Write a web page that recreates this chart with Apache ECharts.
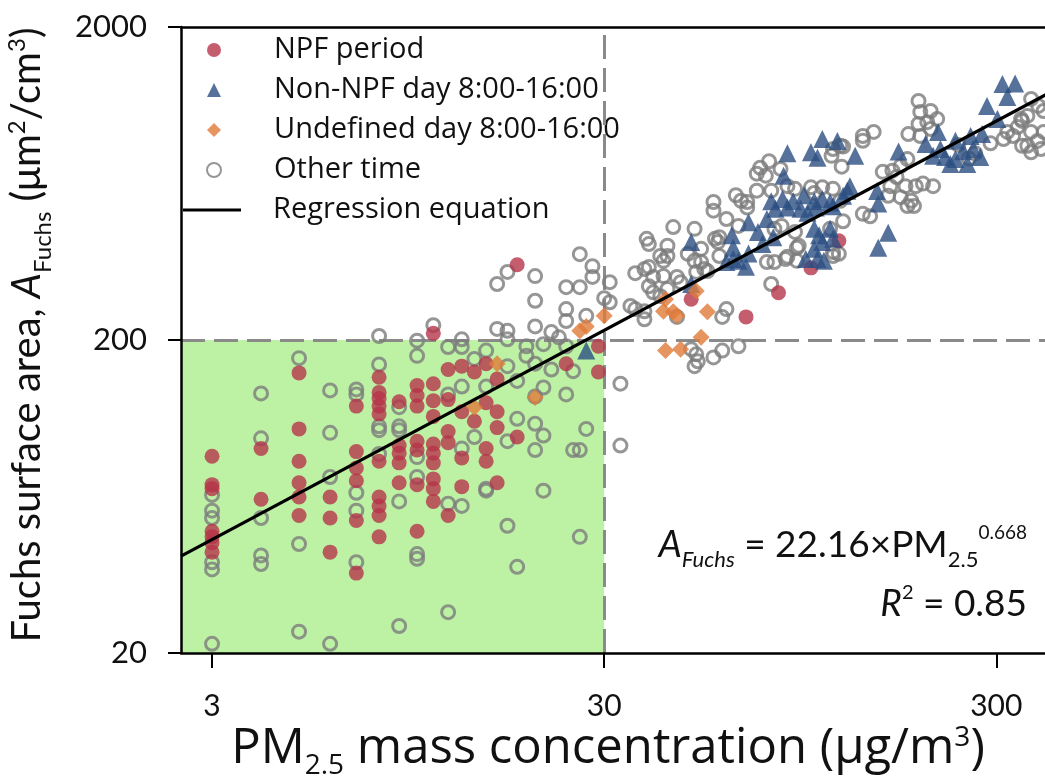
<!DOCTYPE html>
<html>
<head>
<meta charset="utf-8">
<script src="https://cdn.jsdelivr.net/npm/echarts@6.0.0/dist/echarts.min.js"></script>
<style>html,body{margin:0;padding:0;background:#fff}#chart{width:1045px;height:776px}</style>
</head>
<body>
<div id="chart"></div>
<script>
// ---- data ----
const xRange = [2.5, 404];
const yRange = [20, 2000];
const xTicks = [3, 30, 300];
const yTicks = [20, 200, 2000];
const thresholdX = 30;
const thresholdY = 200;

const npfPeriod = [
[3,85],[3,69],[3,67],[3,49],[3,47],[3,45],[3,42],
[4,90],[4,62],
[5,157],[5,104],[5,82],[5,70],[5,63],[5,55],
[6,63],[6,54],[6,42],
[7,123],[7,88],[7,78],[7,71],[7,53],[7,36],
[8,152],[8,136],[8,130],[8,123],[8,116],[8,82],[8,63],[8,59],[8,55],[8,47],
[9,127],[9,92],[9,87],[9,81],[9,70],
[10,143],[10,133],[10,123],[10,95],[10,89],[10,69],[10,49],
[11,210],[11,145],[11,128],[11,114],[11,93],[11,87],[11,81],[11,72],[11,67],[11,61],
[12,161],[12,129],[12,102],[12,94],[12,55],
[13,165],[13,118],[13,84],[13,68],
[14,158],[14,110],
[15,168],[15,126],[15,90],[15,82],
[16,150],[16,118],[16,105],[16,70],
[18,348],[18,98],
[24,168],[29,191],[29,158],
[50,270],[69,237],[83.5,283],[101,340],[119,415]
];

const nonNpfDay = [
[27,185],[50,411],[50,302],[61.5,355],[64,394],[64,363],[66,358],[69,343],[70,378],[63.5,432],[70,476],[74,443],[81,426],[76,405],[78,487],
[98,363],[105,363],[109,358],[103,391],[108,411],[115,421],[103,453],[113,453],[106,432],
[150,394],[159,440],[150,546],[149,599],[127,620],[122,578],[113,550],[131,775],[118,865],[169,800],
[80,555],[85.5,564],[91,555],[97,580],[103,555],[108,564],[82,525],[88,530],[95,525],[104,530],[99,510],[115,535],
[86,670],[88,790],[101,796],[105,765],[108,877],[125,600],
[207,775],[222,768],[236,757],[247,802],[262,815],[276,910],[258,897],[236,866],[216,815],[229,730],[253,730],[273,768],[198,845],[213,924],
[311,1315],[335,1320],[320,1195],[284,1119],[302,1017]
];

const undefinedDay = [
[14,122],[16,168],[20,131],[26,214],[27,221],[30,239],[43,270],[42.5,247],[45,246],[46,239],[51.5,287],[55,246],[53,204],[43,185],[47,187]
];

const otherTime = [
[3,64],[3,57],[3,54],[3,39],[3,37],[3,21.4],
[4,135],[4,97],[4,54],[4,41],[4,38.5],
[5,175],[5,44.6],[5,23.4],
[6,138],[6,101],[6,73],[6,21.4],
[7,139],[7,134],[7,65],[7,57],[7,39],
[8,206],[8,167],[8,106],[8,103],[8,86.5],
[9,122],[9,106],[9,103],[9,61],[9,24.4],
[10,199],[10,178],[10,84.5],[10,73],[10,41.4],[10,40],
[11,223],
[12,190],[12,134],[12,60],[12,27],
[13,201],[13,190],[13,142],[13,90],[13,59],
[14,174],[14,98],
[15,185],[15,142],[15,67],[15,66],
[16,302],[16,217],
[17,330],[17,214],[17,201],[17,165],[17,95],[17,51],
[18,148],[18,112],[18,37.7],
[19,178],[19,191],
[20,320],[20,267],[20,221],[20,168],[20,132],[20,108],[20,89],
[21,194],[21,141],[21,99],[21,66],
[22,212],[22,161],[23,204],
[24,295],[24,251],[24,230],[24,191],[24,134],
[25,159],[25,89],
[26,376],[26,295],[26,89],[26,47],
[27,239],[27,104],
[28,344],[28,318],
[30,272],[31,306],[31,264],[33,145],[33,92],
[35,257],[36,251],[38,247],[38,233],[36,327],[38,337],[39,342],[39,405],[43.5,400],[41.7,371],[42.5,358],[43.5,371],
[49,377],[51,358],[53,355],[54,337],[51.5,330],[55,332],[57.5,421],[58.5,411],[59,371],[40,318],[42.5,320],[46,318],
[47,306],[39,297],[40,284],[41.7,276],[43.5,291],[45,459],[51,453],[53,391],[60,237],[61.5,251],[46,237],
[50,187],[51.5,180],[52,171],[51,165],[57,176],[60,185],[66,191],[38.5,421],[61.5,487],[69.5,552],[57,552],[57,518],
[65,580],[67,557],[69.5,530],[66,463],[59,426],
[73.5,680],[75,710],[79,745],[77.5,670],[73.5,600],[80,600],[84.5,704],[88,620],[92,608],[101,615],[108,615],[115,608],[103,590],[120,557],
[81.5,453],[85,463],[92,443],[94,400],[78,355],[81.5,355],[88,369],[93,358],[87,363],[93,394],[115,371],[119,377],[80,302],
[115,815],[120,835],[121,716],[137,897],[146,924],[137,866],[122,830],[114,775],
[154,689],[163,695],[171,719],[167,663],[178,757],[161,620],[176,620],[187,620],[195,632],[207,620],[159,578],[171,572],
[182,557],[178,536],[185,536],[137,506],[143,497],[122,479],[113,453],[115,382],
[190,1161],[192,1070],[204,1078],[200,993],[212,1017],[190,980],[179,910],[192,897],[204,945],
[240,840],[265,790],[290,850],[255,760],
[368,1178],[384,1119],[396,1078],[360,1040],[349,1002],[340,958],[320,924],[331,897],[313,877],[368,924],[382,865],
[360,835],[396,924],[349,835],[368,796],[390,815],[347,1017]
];

const regressionLine = [[2.5, 40.8], [404, 1221]];

const seriesNames = ['NPF period', 'Non-NPF day 8:00-16:00', 'Undefined day 8:00-16:00', 'Other time', 'Regression equation'];

// ---- chart ----
const FONT = 'Lato, "Noto Sans", sans-serif';
const WIDE = '"Open Sans", Lato, sans-serif';
const INK = '#111';
const chart = echarts.init(document.getElementById('chart'), null, {renderer: 'canvas'});

function richSet(font, main, small, lh) {
  return {
    m: {fontSize: main, lineHeight: lh, verticalAlign: 'middle', fontFamily: font, color: INK},
    i: {fontSize: main, lineHeight: lh, verticalAlign: 'middle', fontFamily: font, color: INK, fontStyle: 'italic'},
    s: {fontSize: small, lineHeight: small, verticalAlign: 'bottom', fontFamily: font, color: INK},
    p: {fontSize: small, lineHeight: small, verticalAlign: 'top', padding: [6, 0, 0, 0], fontFamily: font, color: INK}
  };
}

const legendText = {fontSize: 29, fontFamily: WIDE, color: INK, lineHeight: 30};

const option = {
  animation: false,
  backgroundColor: '#fff',
  textStyle: {fontFamily: FONT},
  grid: {left: 181, top: 27, width: 866, height: 626, containLabel: false, outerBoundsMode: 'none'},
  legend: [{
    orient: 'vertical', left: 201, top: 30, padding: 5,
    itemWidth: 14, itemHeight: 14, itemGap: 10,
    selectedMode: false,
    textStyle: Object.assign({padding: [0, 0, 0, 48]}, legendText),
    data: seriesNames.slice(0, 4)
  }, {
    orient: 'vertical', left: 178, top: 190, padding: 5,
    itemWidth: 58, itemHeight: 3, itemGap: 10,
    selectedMode: false,
    textStyle: Object.assign({padding: [0, 0, 0, 27]}, legendText),
    data: [{name: seriesNames[4], icon: 'rect'}]
  }],
  xAxis: [{
    type: 'log', logBase: 10, min: xRange[0], max: xRange[1],
    z: 20,
    axisLine: {show: true, onZero: false, lineStyle: {color: '#000', width: 2.5}},
    axisTick: {show: true, inside: false, length: 15, lineStyle: {color: '#000', width: 2}, customValues: xTicks},
    axisLabel: {customValues: xTicks, margin: 38, fontSize: 30, color: INK, fontFamily: FONT, formatter: v => String(v)},
    splitLine: {show: false}, minorTick: {show: false}, minorSplitLine: {show: false},
    name: '{m|PM}{s|2.5}{m| mass concentration (μg/m}{p|3}{m|)}',
    nameLocation: 'middle', nameGap: 65, nameMoveOverlap: false,
    nameTextStyle: {rich: richSet(WIDE, 49, 28, 62), padding: [0, 12, 0, 0]}
  }, {
    type: 'value', position: 'top', min: 0, max: 1, z: 20,
    axisLine: {show: true, onZero: false, lineStyle: {color: '#000', width: 2.5}},
    axisTick: {show: false}, axisLabel: {show: false}, splitLine: {show: false}
  }],
  yAxis: {
    type: 'log', logBase: 10, min: yRange[0], max: yRange[1],
    z: 20,
    axisLine: {show: true, onZero: false, lineStyle: {color: '#000', width: 2.5}},
    axisTick: {show: true, inside: false, length: 13, lineStyle: {color: '#000', width: 2}, customValues: yTicks},
    axisLabel: {customValues: yTicks, margin: 34, fontSize: 31, color: INK, fontFamily: FONT, formatter: v => String(v)},
    splitLine: {show: false}, minorTick: {show: false}, minorSplitLine: {show: false},
    name: '{m|Fuchs surface area, }{i|A}{s|Fuchs}{m| (μm}{p|2}{m|/cm}{p|3}{m|)}',
    nameLocation: 'middle', nameGap: 126, nameRotate: 90, nameMoveOverlap: false,
    nameTextStyle: {rich: richSet(FONT, 40, 24, 56), padding: [0, 0, 0, 10]}
  },
  series: [
    {
      name: seriesNames[3], type: 'scatter', data: otherTime, z: 10,
      symbol: 'circle', symbolSize: 13,
      itemStyle: {color: 'rgba(0,0,0,0)', borderColor: '#7c7c7c', borderWidth: 3},
      markArea: {
        silent: true, z: 1,
        itemStyle: {color: '#bdf2a5'},
        data: [[{coord: [xRange[0], yRange[0]]}, {coord: [thresholdX, thresholdY]}]]
      },
      markLine: {
        silent: true, z: 5, symbol: 'none', label: {show: false},
        lineStyle: {color: '#8a8a8a', width: 3, type: [24, 9]},
        data: [{xAxis: thresholdX}, {yAxis: thresholdY}]
      }
    },
    {
      name: seriesNames[0], type: 'scatter', data: npfPeriod, z: 11,
      symbol: 'circle', symbolSize: 15,
      itemStyle: {color: '#b5344a'}
    },
    {
      name: seriesNames[1], type: 'scatter', data: nonNpfDay, z: 12,
      symbol: 'triangle', symbolSize: 18,
      itemStyle: {color: '#2c4f82'}
    },
    {
      name: seriesNames[2], type: 'scatter', data: undefinedDay, z: 13,
      symbol: 'diamond', symbolSize: 17,
      itemStyle: {color: '#e07b39'}
    },
    {
      name: seriesNames[4], type: 'line', data: regressionLine, z: 14,
      symbol: 'none', showSymbol: false,
      lineStyle: {color: '#000', width: 3.2},
      itemStyle: {color: '#000'}
    }
  ],
  graphic: [
    {
      type: 'text', right: 18, top: 519, z: 30,
      style: {
        text: '{i|A}{si|Fuchs}{m| = 22.16×PM}{s|2.5}{p|0.668}',
        align: 'right',
        rich: {
          m: {fontSize: 37, lineHeight: 52, verticalAlign: 'middle', fontFamily: FONT, fill: INK, color: INK},
          i: {fontSize: 37, lineHeight: 52, verticalAlign: 'middle', fontFamily: FONT, fill: INK, color: INK, fontStyle: 'italic'},
          si: {fontSize: 22, lineHeight: 22, verticalAlign: 'bottom', fontFamily: FONT, fill: INK, color: INK, fontStyle: 'italic'},
          s: {fontSize: 22, lineHeight: 22, verticalAlign: 'bottom', fontFamily: FONT, fill: INK, color: INK},
          p: {fontSize: 19, lineHeight: 19, verticalAlign: 'top', padding: [4, 0, 0, 0], fontFamily: FONT, fill: INK, color: INK}
        }
      }
    },
    {
      type: 'text', right: 18, top: 581, z: 30,
      style: {
        text: '{i|R}{p|2}{m| = 0.85}',
        align: 'right',
        rich: {
          m: {fontSize: 37, lineHeight: 46, verticalAlign: 'middle', fontFamily: FONT, fill: INK, color: INK},
          i: {fontSize: 37, lineHeight: 46, verticalAlign: 'middle', fontFamily: FONT, fill: INK, color: INK, fontStyle: 'italic'},
          p: {fontSize: 20, lineHeight: 20, verticalAlign: 'top', padding: [2, 0, 0, 0], fontFamily: FONT, fill: INK, color: INK}
        }
      }
    }
  ]
};
chart.setOption(option);
</script>
</body>
</html>
